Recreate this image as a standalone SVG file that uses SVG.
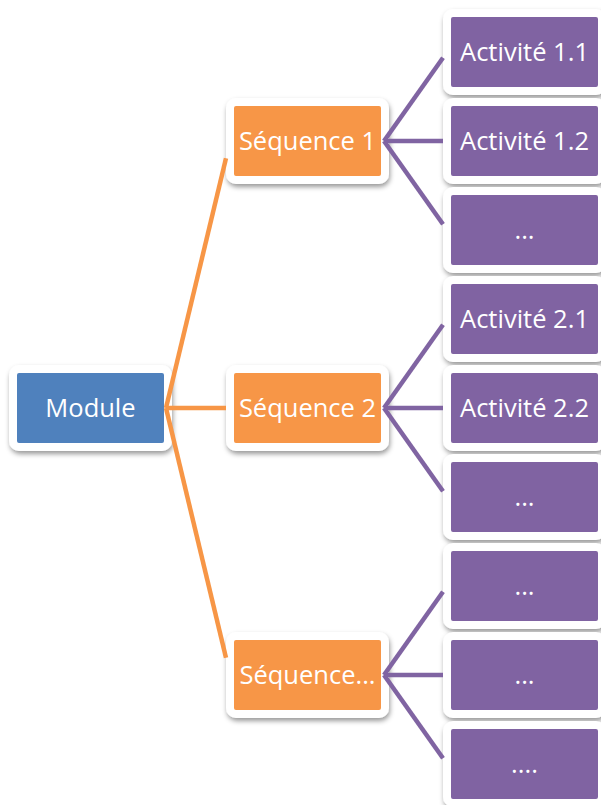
<svg xmlns="http://www.w3.org/2000/svg" width="601" height="805" viewBox="0 0 601 805">
<defs>
<filter id="sh" x="-20%" y="-20%" width="140%" height="150%">
<feDropShadow dx="1" dy="3" stdDeviation="2.5" flood-color="#000" flood-opacity="0.4"/>
</filter>
</defs>
<style>
.box{stroke:#fff;stroke-width:8;filter:url(#sh)}
.mod{fill:#4F81BD}
.seq{fill:#F79646}
.act{fill:#8064A2}
.t{font-family:"Open Sans","Liberation Sans",sans-serif;font-size:25.5px;fill:#fff;text-anchor:middle}
.co{stroke:#F79646;stroke-width:4.5;fill:none}
.cp{stroke:#8064A2;stroke-width:4.5;fill:none}
</style>
<rect width="601" height="805" fill="#fff"/>
<g id="module"><rect class="box mod" x="13" y="369" width="155" height="78" rx="6"/><text class="t" x="90.5" y="417">Module</text></g>
<g id="seq1"><rect class="box seq" x="230" y="102" width="155" height="78" rx="6"/><text class="t" x="307.5" y="150">Séquence 1</text></g>
<g id="seq2"><rect class="box seq" x="230" y="369" width="155" height="78" rx="6"/><text class="t" x="307.5" y="417">Séquence 2</text></g>
<g id="seq3"><rect class="box seq" x="230" y="636" width="155" height="78" rx="6"/><text class="t" x="307.5" y="684">Séquence...</text></g>
<g id="a11"><rect class="box act" x="447" y="13" width="155" height="78" rx="6"/><text class="t" x="524.5" y="61">Activité 1.1</text></g>
<g id="a12"><rect class="box act" x="447" y="102" width="155" height="78" rx="6"/><text class="t" x="524.5" y="150">Activité 1.2</text></g>
<g id="a13"><rect class="box act" x="447" y="191" width="155" height="78" rx="6"/><text class="t" x="524.5" y="239">...</text></g>
<g id="a21"><rect class="box act" x="447" y="280" width="155" height="78" rx="6"/><text class="t" x="524.5" y="328">Activité 2.1</text></g>
<g id="a22"><rect class="box act" x="447" y="369" width="155" height="78" rx="6"/><text class="t" x="524.5" y="417">Activité 2.2</text></g>
<g id="a23"><rect class="box act" x="447" y="458" width="155" height="78" rx="6"/><text class="t" x="524.5" y="506">...</text></g>
<g id="a31"><rect class="box act" x="447" y="547" width="155" height="78" rx="6"/><text class="t" x="524.5" y="595">...</text></g>
<g id="a32"><rect class="box act" x="447" y="636" width="155" height="78" rx="6"/><text class="t" x="524.5" y="684">...</text></g>
<g id="a33"><rect class="box act" x="447" y="725" width="155" height="78" rx="6"/><text class="t" x="524.5" y="773">....</text></g>
<g id="connectors">
<line class="co" x1="166" y1="408" x2="226" y2="158.2"/>
<line class="co" x1="166" y1="408" x2="226" y2="408"/>
<line class="co" x1="166" y1="408" x2="226" y2="657.8"/>
<line class="cp" x1="384" y1="141" x2="443" y2="57.7"/>
<line class="cp" x1="384" y1="141" x2="443" y2="141"/>
<line class="cp" x1="384" y1="141" x2="443" y2="224.3"/>
<line class="cp" x1="384" y1="408" x2="443" y2="324.7"/>
<line class="cp" x1="384" y1="408" x2="443" y2="408"/>
<line class="cp" x1="384" y1="408" x2="443" y2="491.3"/>
<line class="cp" x1="384" y1="675" x2="443" y2="591.7"/>
<line class="cp" x1="384" y1="675" x2="443" y2="675"/>
<line class="cp" x1="384" y1="675" x2="443" y2="758.3"/>
</g>
</svg>
